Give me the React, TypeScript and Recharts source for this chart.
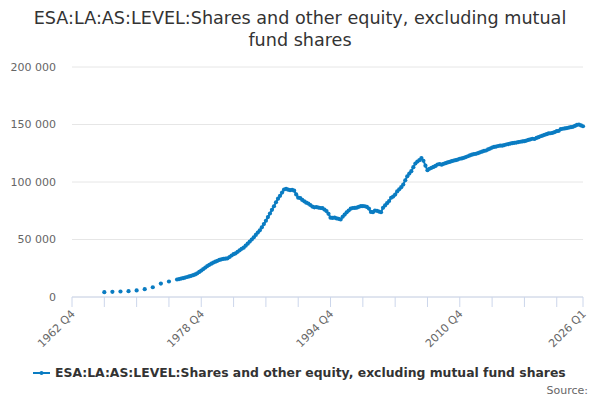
import React from "react";
import { LineChart, Line, XAxis, YAxis, CartesianGrid } from "recharts";

// quarters are counted from 1962 Q4 (index 0)
const firstYear = 1962;
const firstQuarter = 4;
const lastIndex = 253; // 2026 Q1

// annual observations (Q4 of each year), 1966-1974
const annualIndexes = [16, 20, 24, 28, 32, 36, 40, 44, 48];
const annualValues = [4200, 4500, 4800, 5100, 5700, 6800, 8500, 11700, 13500];

// quarterly observations from 1975 Q4 (index 52) to 2026 Q1
const quarterlyStart = 52;
const quarterlyValues = [
  15200,
  15600, 16000, 16400, 16900, // 1976
  17400, 17900, 18400, 19000,
  19600, 20600, 21800, 23000, // 1978
  24300, 25600, 26900, 28000,
  29000, 29900, 30700, 31500, // 1980
  32200, 32800, 33200, 33300,
  33600, 34800, 36100, 37200, // 1982
  38000, 39300, 40600, 41900,
  42900, 44600, 46400, 48200, // 1984
  50000, 51900, 54000, 56000,
  58000, 60600, 63400, 66300, // 1986
  69500, 72600, 75800, 78900,
  82400, 85500, 88000, 90800, // 1988
  93500, 94100, 93300, 92900,
  93200, 92500, 89200, 86400, // 1990
  86000, 84400, 83200, 82000,
  81200, 80000, 78600, 78000, // 1992
  78200, 77800, 77400, 77200,
  76000, 74700, 72300, 69000, // 1994
  68800, 69100, 68300, 68000,
  67400, 69800, 71700, 73600, // 1996
  75200, 76800, 77400, 77500,
  77700, 78400, 79000, 79100, // 1998
  78900, 78300, 76900, 74000,
  73800, 75200, 74900, 74300, // 2000
  73700, 77600, 79600, 81600,
  83500, 86300, 87300, 89100, // 2002
  91800, 93600, 95500, 97800,
  101500, 105000, 107300, 109400, // 2004
  112900, 116100, 117800, 119000,
  120800, 118500, 114200, 110300, // 2006
  111500, 112300, 113100, 114000,
  115200, 115600, 115100, 115800, // 2008
  116400, 117000, 117500, 118100,
  118600, 119000, 119500, 120200, // 2010
  120500, 121000, 121700, 122400,
  123100, 123800, 124300, 124500, // 2012
  125100, 125800, 126400, 127000,
  127400, 128300, 129100, 129900, // 2014
  130500, 130800, 131300, 131700,
  131600, 132100, 132600, 133000, // 2016
  133400, 133800, 134100, 134300,
  134700, 135000, 135300, 135500, // 2018
  136000, 136600, 137100, 137600,
  137400, 138300, 139000, 139800, // 2020
  140400, 141000, 141600, 142200,
  142400, 142800, 143400, 144200, // 2022
  144500, 145900, 146300, 146600,
  146900, 147300, 147700, 148000, // 2024
  148800, 149600, 150000, 149200,
  148500, // 2026 Q1
];

const xTicks = [0, 16, 32, 48, 64, 80, 96, 112, 128, 144, 160, 176, 192, 208, 224, 240, 253];
const labelledTicks = [0, 64, 128, 192, 253];
const yTicks = [0, 50000, 100000, 150000, 200000];

const seriesName = "ESA:LA:AS:LEVEL:Shares and other equity, excluding mutual fund shares";
const color = "#0a7cc2";
const font = "'DejaVu Sans', sans-serif";

function quarterLabel(i: number) {
  const n = firstQuarter - 1 + i;
  return `${firstYear + Math.floor(n / 4)} Q${(n % 4) + 1}`;
}

const data = Array.from({ length: lastIndex + 1 }, (_, i) => {
  let value: number | null = null;
  const a = annualIndexes.indexOf(i);
  if (a >= 0) value = annualValues[a];
  if (i >= quarterlyStart && i - quarterlyStart < quarterlyValues.length) {
    value = quarterlyValues[i - quarterlyStart];
  }
  return { q: i, label: quarterLabel(i), value };
});

const fmt = (v: number) => String(v).replace(/\B(?=(\d{3})+(?!\d))/g, " ");

function XTick(props: any) {
  const { x, y, payload } = props;
  if (!labelledTicks.includes(payload.value)) return null;
  const tx = x - 2;
  const ty = y;
  return (
    <text
      x={tx}
      y={ty}
      transform={`rotate(-45, ${tx}, ${ty})`}
      textAnchor="end"
      dominantBaseline="hanging"
      fontSize={11}
      fontFamily={font}
      fill="#666666"
    >
      {quarterLabel(payload.value)}
    </text>
  );
}

function Dot(props: any) {
  const { cx, cy, payload } = props;
  if (cx == null || cy == null || payload.value == null) return null;
  return <circle key={payload.q} cx={cx} cy={cy} r={2.1} fill={color} />;
}

export default function App() {
  return (
    <div
      style={{
        position: "absolute",
        left: 0,
        top: 0,
        width: 600,
        height: 400,
        background: "#fff",
        fontFamily: font,
      }}
    >
      <div
        style={{
          position: "absolute",
          top: 7,
          left: 0,
          width: 600,
          textAlign: "center",
          fontSize: 17.6,
          lineHeight: "22px",
          color: "#333333",
        }}
      >
        ESA:LA:AS:LEVEL:Shares and other equity, excluding mutual
        <br />
        fund shares
      </div>
      <LineChart
        width={600}
        height={400}
        data={data}
        margin={{ top: 67, right: 17, bottom: 43, left: 0 }}
      >
        <CartesianGrid vertical={false} stroke="#e6e6e6" />
        <XAxis
          dataKey="q"
          type="number"
          domain={[0, lastIndex]}
          ticks={xTicks}
          interval={0}
          height={60}
          tickSize={10}
          axisLine={{ stroke: "#ccd6eb" }}
          tickLine={{ stroke: "#ccd6eb" }}
          tick={<XTick />}
        />
        <YAxis
          width={72}
          domain={[0, 200000]}
          ticks={yTicks}
          axisLine={false}
          tickLine={false}
          tickSize={0}
          tickMargin={16}
          tickFormatter={fmt}
          tick={{ fontSize: 11, fill: "#666666", fontFamily: font }}
        />
        <Line
          type="linear"
          dataKey="value"
          stroke={color}
          strokeWidth={2}
          dot={<Dot />}
          connectNulls={false}
          isAnimationActive={false}
        />
      </LineChart>
      <div
        style={{
          position: "absolute",
          top: 365,
          left: 33,
          display: "flex",
          alignItems: "center",
          fontSize: 12.4,
          fontWeight: "bold",
          color: "#333333",
          whiteSpace: "nowrap",
        }}
      >
        <svg width={18} height={12} style={{ marginRight: 4 }}>
          <line x1={0} y1={6} x2={17} y2={6} stroke={color} strokeWidth={2} />
          <circle cx={8.5} cy={6} r={2} fill={color} />
        </svg>
        {seriesName}
      </div>
      <div
        style={{
          position: "absolute",
          top: 384,
          right: 12,
          fontSize: 11,
          color: "#666666",
        }}
      >
        Source:
      </div>
    </div>
  );
}
